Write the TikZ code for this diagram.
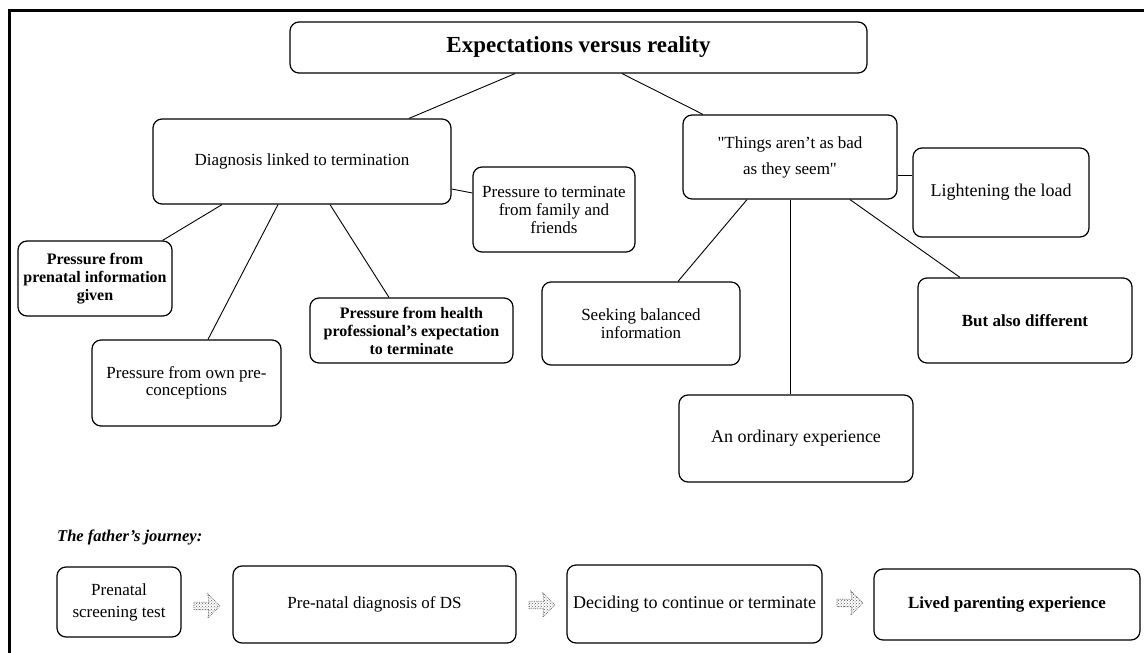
\documentclass[tikz,border=0pt]{standalone}
\usepackage{fontspec}
\setmainfont{Liberation Serif}
\usetikzlibrary{shapes.arrows,patterns}
\tikzset{
	box/.style={draw, line width=1.2pt, rounded corners=9pt, align=center, inner sep=2pt, font=\fontsize{17}{18}\selectfont},
	boldbox/.style={box, font=\fontsize{16}{18}\selectfont\bfseries},
	link/.style={line width=0.9pt},
	flowarrow/.style={single arrow, draw=gray!80!black, densely dotted, line width=0.8pt, pattern=crosshatch dots, pattern color=gray!70!black, minimum height=26pt, minimum width=24pt, single arrow head extend=3pt, single arrow head indent=1pt, inner sep=1pt},
}
\begin{document}
\begin{tikzpicture}[x=1pt,y=-1pt]
	\useasboundingbox (0,0) rectangle (1144,653);
	\draw[line width=3pt] (9,653) -- (9,10.5) -- (1144,10.5);

	\node[box, minimum width=577pt, minimum height=51pt, font=\fontsize{23}{26}\selectfont\bfseries] (title) at (578.5,47.5) {Expectations versus reality};

	\node[box, minimum width=298pt, minimum height=85pt] (diag) at (302,161.5) {Diagnosis linked to termination};
	\node[box, minimum width=162pt, minimum height=85pt] (family) at (554,209.5) {Pressure to terminate\\from family and\\friends};
	\node[boldbox, minimum width=154pt, minimum height=75pt] (info) at (95,278.5) {Pressure from\\prenatal information\\given};
	\node[box, minimum width=189pt, minimum height=86pt, font=\fontsize{17}{17}\selectfont] (own) at (186.5,383) {Pressure from own pre-\\conceptions};
	\node[boldbox, minimum width=203pt, minimum height=65pt] (health) at (411.5,330.5) {Pressure from health\\professional's expectation\\to terminate};

	\node[box, minimum width=214pt, minimum height=84pt, font=\fontsize{17}{26}\selectfont] (things) at (790,157) {\textquotedbl Things aren't as bad\\as they seem\textquotedbl};
	\node[box, minimum width=176pt, minimum height=89pt, font=\fontsize{18}{20}\selectfont] (light) at (1001,192.5) {Lightening the load};
	\node[box, minimum width=198pt, minimum height=83pt] (seek) at (641,323.5) {Seeking balanced\\information};
	\node[boldbox, minimum width=214pt, minimum height=85pt, font=\fontsize{17}{20}\selectfont\bfseries] (diff) at (1025,320.5) {But also different};
	\node[box, minimum width=234pt, minimum height=87pt, font=\fontsize{18}{20}\selectfont] (ordinary) at (796,438.5) {An ordinary experience};

	\draw[link] ([xshift=-63.5pt]title.south) -- ([xshift=107pt]diag.north);
	\draw[link] ([xshift=43.5pt]title.south) -- ([xshift=-87pt]things.north);
	\draw[link] ([yshift=-27.5pt]diag.east) -- ([yshift=16.5pt]family.west);
	\draw[link] ([xshift=-80pt]diag.south) -- ([xshift=-10pt]info.north east);
	\draw[link] ([xshift=-24pt]diag.south) -- ([xshift=21.5pt]own.north);
	\draw[link] ([xshift=28pt]diag.south) -- ([xshift=-22.5pt]health.north);
	\draw[link] ([xshift=-43pt]things.south) -- ([xshift=37pt]seek.north);
	\draw[link] (things.south) -- (things.south |- ordinary.north);
	\draw[link] ([xshift=60pt]things.south) -- ([xshift=-65pt]diff.north);
	\draw[link] ([yshift=-18pt]things.east) -- ([yshift=17.5pt]light.west);

	\node[anchor=west, inner sep=0pt, font=\fontsize{16.5}{18}\selectfont\bfseries\itshape] (journey) at (57,537) {The father's journey:};

	\node[box, minimum width=124pt, minimum height=70pt, font=\fontsize{17}{22}\selectfont] (screen) at (119,602) {Prenatal\\screening test};
	\node[box, minimum width=283pt, minimum height=77pt] (dsdiag) at (374.5,604.5) {Pre-natal diagnosis of DS};
	\node[box, minimum width=255pt, minimum height=78pt, font=\fontsize{18}{20}\selectfont] (decide) at (694.5,604) {Deciding to continue or terminate};
	\node[boldbox, minimum width=266pt, minimum height=71pt, font=\fontsize{17}{20}\selectfont\bfseries] (lived) at (1007,604.5) {Lived parenting experience};

	\node[flowarrow] (arrA) at (205,606) {};
	\node[flowarrow] (arrB) at (540,605) {};
	\node[flowarrow] (arrC) at (848,603) {};
\end{tikzpicture}
\end{document}
